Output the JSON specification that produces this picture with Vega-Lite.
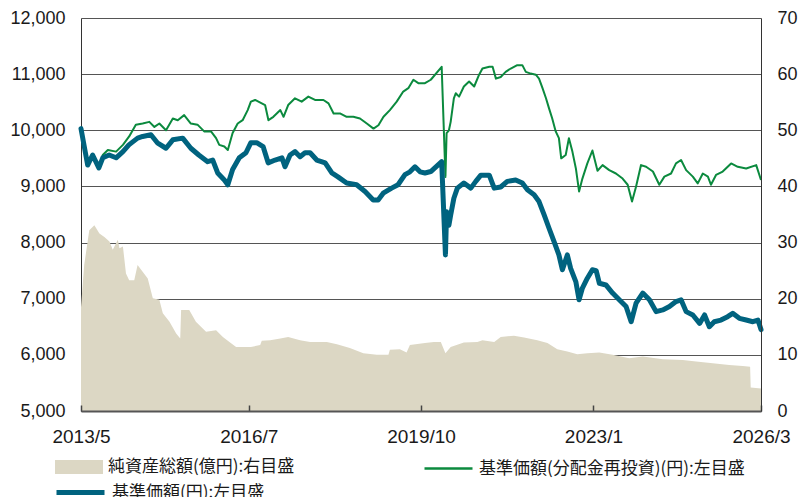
{
  "$schema": "https://vega.github.io/schema/vega-lite/v6.json",
  "width": 680,
  "height": 393,
  "autosize": "none",
  "padding": {"left": 81, "top": 18, "right": 39, "bottom": 86},
  "background": "white",
  "config": {
    "view": {"stroke": null},
    "font": "Liberation Sans",
    "axis": {"labelColor": "#1a1a1a", "labelFont": "Liberation Sans", "labelFontSize": 18, "title": null},
    "legend": {"labelFont": "Noto Sans CJK JP", "labelFontSize": 17, "labelColor": "#1a1a1a", "labelLimit": 0, "labelOffset": 5, "title": null, "orient": "none", "symbolSize": 2304, "symbolOpacity": 1}
  },
  "datasets": {
    "assets": [
      {"d": "2013-05-01", "v": 18.5}, {"d": "2013-05-23", "v": 26}, {"d": "2013-06-27", "v": 32.2}, {"d": "2013-08-01", "v": 33.1},
      {"d": "2013-09-05", "v": 31.6}, {"d": "2013-10-09", "v": 31.0}, {"d": "2013-11-13", "v": 30.2}, {"d": "2013-12-06", "v": 28.7},
      {"d": "2014-01-10", "v": 30.5}, {"d": "2014-01-21", "v": 29.0}, {"d": "2014-02-14", "v": 29.3}, {"d": "2014-03-07", "v": 24.5},
      {"d": "2014-03-29", "v": 23.3}, {"d": "2014-05-03", "v": 23.3}, {"d": "2014-05-26", "v": 26.0}, {"d": "2014-06-30", "v": 24.8},
      {"d": "2014-08-04", "v": 23.6}, {"d": "2014-09-08", "v": 20.1}, {"d": "2014-10-23", "v": 19.8}, {"d": "2014-11-16", "v": 17.4},
      {"d": "2015-01-01", "v": 15.9}, {"d": "2015-02-16", "v": 13.8}, {"d": "2015-03-16", "v": 12.9}, {"d": "2015-03-22", "v": 18.0},
      {"d": "2015-05-17", "v": 18.0}, {"d": "2015-07-02", "v": 15.9}, {"d": "2015-09-10", "v": 14.1}, {"d": "2015-11-18", "v": 14.4},
      {"d": "2016-01-04", "v": 13.2}, {"d": "2016-02-18", "v": 12.3}, {"d": "2016-04-04", "v": 11.4}, {"d": "2016-07-15", "v": 11.4},
      {"d": "2016-09-17", "v": 11.75}, {"d": "2016-09-28", "v": 12.5}, {"d": "2016-11-25", "v": 12.6}, {"d": "2017-02-03", "v": 12.9},
      {"d": "2017-03-29", "v": 13.2}, {"d": "2017-06-19", "v": 12.6}, {"d": "2017-08-27", "v": 12.3}, {"d": "2017-12-20", "v": 12.3},
      {"d": "2018-02-28", "v": 11.9}, {"d": "2018-05-28", "v": 11.2}, {"d": "2018-08-29", "v": 10.3}, {"d": "2018-11-30", "v": 10.0},
      {"d": "2019-02-18", "v": 10.0}, {"d": "2019-02-28", "v": 10.9}, {"d": "2019-05-08", "v": 11.0}, {"d": "2019-06-23", "v": 10.4},
      {"d": "2019-07-16", "v": 11.75}, {"d": "2019-10-28", "v": 12.1}, {"d": "2019-12-29", "v": 12.3}, {"d": "2020-02-14", "v": 12.3},
      {"d": "2020-03-17", "v": 10.3}, {"d": "2020-04-22", "v": 11.4}, {"d": "2020-07-22", "v": 12.2}, {"d": "2020-10-23", "v": 12.3},
      {"d": "2020-11-27", "v": 12.6}, {"d": "2021-02-16", "v": 12.3}, {"d": "2021-04-02", "v": 13.2}, {"d": "2021-07-02", "v": 13.4},
      {"d": "2021-09-10", "v": 13.1}, {"d": "2021-12-10", "v": 12.6}, {"d": "2022-02-18", "v": 12.1}, {"d": "2022-04-27", "v": 11.0},
      {"d": "2022-07-05", "v": 10.6}, {"d": "2022-09-12", "v": 10.1}, {"d": "2022-11-20", "v": 10.3}, {"d": "2023-02-10", "v": 10.4},
      {"d": "2023-05-13", "v": 10.0}, {"d": "2023-09-05", "v": 9.4}, {"d": "2023-12-07", "v": 9.7}, {"d": "2024-04-23", "v": 9.2},
      {"d": "2024-09-08", "v": 9.1}, {"d": "2024-12-09", "v": 8.8}, {"d": "2025-04-02", "v": 8.5}, {"d": "2025-07-25", "v": 8.2},
      {"d": "2025-10-26", "v": 8.0}, {"d": "2025-12-16", "v": 7.9}, {"d": "2025-12-20", "v": 4.2}, {"d": "2026-03-01", "v": 4.0}
    ],
    "navre": [
      {"d": "2013-05-01", "v": 10030}, {"d": "2013-06-16", "v": 9380}, {"d": "2013-07-20", "v": 9560}, {"d": "2013-09-01", "v": 9340},
      {"d": "2013-09-28", "v": 9560}, {"d": "2013-11-02", "v": 9650}, {"d": "2013-12-29", "v": 9620}, {"d": "2014-02-14", "v": 9740},
      {"d": "2014-03-29", "v": 9890}, {"d": "2014-05-14", "v": 10100}, {"d": "2014-06-30", "v": 10120}, {"d": "2014-08-15", "v": 10150},
      {"d": "2014-09-19", "v": 10060}, {"d": "2014-10-23", "v": 10120}, {"d": "2014-12-08", "v": 10000}, {"d": "2015-01-24", "v": 10210},
      {"d": "2015-02-27", "v": 10180}, {"d": "2015-04-12", "v": 10270}, {"d": "2015-05-28", "v": 10120}, {"d": "2015-07-13", "v": 10100},
      {"d": "2015-08-28", "v": 9980}, {"d": "2015-10-14", "v": 9980}, {"d": "2015-11-18", "v": 9860}, {"d": "2015-12-10", "v": 9740},
      {"d": "2016-01-14", "v": 9710}, {"d": "2016-02-07", "v": 9650}, {"d": "2016-03-11", "v": 9950}, {"d": "2016-04-15", "v": 10120},
      {"d": "2016-05-19", "v": 10180}, {"d": "2016-06-23", "v": 10360}, {"d": "2016-07-15", "v": 10510}, {"d": "2016-08-13", "v": 10540},
      {"d": "2016-09-28", "v": 10480}, {"d": "2016-10-21", "v": 10450}, {"d": "2016-11-13", "v": 10180}, {"d": "2016-12-17", "v": 10240},
      {"d": "2017-02-03", "v": 10360}, {"d": "2017-02-25", "v": 10240}, {"d": "2017-03-29", "v": 10450}, {"d": "2017-05-15", "v": 10570},
      {"d": "2017-06-30", "v": 10510}, {"d": "2017-08-15", "v": 10600}, {"d": "2017-09-30", "v": 10540}, {"d": "2017-11-27", "v": 10540},
      {"d": "2018-01-01", "v": 10480}, {"d": "2018-02-05", "v": 10300}, {"d": "2018-03-21", "v": 10300}, {"d": "2018-05-06", "v": 10240},
      {"d": "2018-06-21", "v": 10240}, {"d": "2018-08-06", "v": 10210}, {"d": "2018-09-22", "v": 10120}, {"d": "2018-11-07", "v": 10030},
      {"d": "2018-12-11", "v": 10090}, {"d": "2019-01-15", "v": 10240}, {"d": "2019-02-28", "v": 10360}, {"d": "2019-04-16", "v": 10510},
      {"d": "2019-05-31", "v": 10690}, {"d": "2019-07-05", "v": 10750}, {"d": "2019-08-09", "v": 10900}, {"d": "2019-09-12", "v": 10840},
      {"d": "2019-10-28", "v": 10840}, {"d": "2019-12-07", "v": 10900}, {"d": "2020-02-20", "v": 11130}, {"d": "2020-03-17", "v": 9170},
      {"d": "2020-03-25", "v": 9950}, {"d": "2020-04-10", "v": 10000}, {"d": "2020-04-22", "v": 10150}, {"d": "2020-05-14", "v": 10570},
      {"d": "2020-05-27", "v": 10660}, {"d": "2020-06-19", "v": 10600}, {"d": "2020-07-22", "v": 10780}, {"d": "2020-08-27", "v": 10870},
      {"d": "2020-10-01", "v": 10780}, {"d": "2020-11-04", "v": 10990}, {"d": "2020-11-27", "v": 11100}, {"d": "2021-01-13", "v": 11130},
      {"d": "2021-02-05", "v": 11130}, {"d": "2021-02-28", "v": 10920}, {"d": "2021-04-02", "v": 10950}, {"d": "2021-05-06", "v": 11040},
      {"d": "2021-06-10", "v": 11100}, {"d": "2021-07-25", "v": 11160}, {"d": "2021-08-29", "v": 11160}, {"d": "2021-09-22", "v": 11040},
      {"d": "2021-10-26", "v": 11010}, {"d": "2021-11-30", "v": 10990}, {"d": "2021-12-22", "v": 10920}, {"d": "2022-01-15", "v": 10750},
      {"d": "2022-02-08", "v": 10570}, {"d": "2022-03-01", "v": 10390}, {"d": "2022-03-23", "v": 10210}, {"d": "2022-04-16", "v": 9980},
      {"d": "2022-05-08", "v": 9860}, {"d": "2022-05-24", "v": 9500}, {"d": "2022-06-24", "v": 9560}, {"d": "2022-07-16", "v": 9860},
      {"d": "2022-08-09", "v": 9620}, {"d": "2022-09-02", "v": 9320}, {"d": "2022-09-24", "v": 8910}, {"d": "2022-10-17", "v": 9140},
      {"d": "2022-11-20", "v": 9410}, {"d": "2022-12-25", "v": 9640}, {"d": "2023-01-29", "v": 9280}, {"d": "2023-03-05", "v": 9380},
      {"d": "2023-04-20", "v": 9290}, {"d": "2023-06-05", "v": 9230}, {"d": "2023-07-21", "v": 9140}, {"d": "2023-08-25", "v": 9030},
      {"d": "2023-09-24", "v": 8730}, {"d": "2023-10-22", "v": 9000}, {"d": "2023-11-25", "v": 9380}, {"d": "2023-12-30", "v": 9350},
      {"d": "2024-02-15", "v": 9265}, {"d": "2024-03-30", "v": 9030}, {"d": "2024-05-04", "v": 9175}, {"d": "2024-06-19", "v": 9230},
      {"d": "2024-07-23", "v": 9410}, {"d": "2024-08-27", "v": 9470}, {"d": "2024-10-01", "v": 9290}, {"d": "2024-11-16", "v": 9175},
      {"d": "2024-12-20", "v": 9055}, {"d": "2025-01-24", "v": 9230}, {"d": "2025-02-28", "v": 9175}, {"d": "2025-03-21", "v": 9030},
      {"d": "2025-04-25", "v": 9205}, {"d": "2025-06-10", "v": 9265}, {"d": "2025-08-07", "v": 9410}, {"d": "2025-09-22", "v": 9350},
      {"d": "2025-11-19", "v": 9320}, {"d": "2026-01-27", "v": 9380}, {"d": "2026-03-01", "v": 9115}
    ],
    "nav": [
      {"d": "2013-05-01", "v": 10030}, {"d": "2013-06-16", "v": 9380}, {"d": "2013-07-20", "v": 9560}, {"d": "2013-09-01", "v": 9330},
      {"d": "2013-09-28", "v": 9510}, {"d": "2013-11-11", "v": 9560}, {"d": "2013-12-29", "v": 9510}, {"d": "2014-02-14", "v": 9620},
      {"d": "2014-03-27", "v": 9740}, {"d": "2014-05-26", "v": 9860}, {"d": "2014-06-30", "v": 9890}, {"d": "2014-08-26", "v": 9920},
      {"d": "2014-10-12", "v": 9770}, {"d": "2014-12-08", "v": 9680}, {"d": "2015-01-24", "v": 9830}, {"d": "2015-04-02", "v": 9860},
      {"d": "2015-05-28", "v": 9680}, {"d": "2015-07-22", "v": 9560}, {"d": "2015-09-21", "v": 9440}, {"d": "2015-10-26", "v": 9470},
      {"d": "2015-11-29", "v": 9240}, {"d": "2016-01-14", "v": 9115}, {"d": "2016-02-07", "v": 9030}, {"d": "2016-03-11", "v": 9300},
      {"d": "2016-04-26", "v": 9510}, {"d": "2016-06-11", "v": 9600}, {"d": "2016-07-15", "v": 9780}, {"d": "2016-08-24", "v": 9780},
      {"d": "2016-10-07", "v": 9710}, {"d": "2016-11-11", "v": 9420}, {"d": "2016-12-29", "v": 9470}, {"d": "2017-02-14", "v": 9510},
      {"d": "2017-03-07", "v": 9350}, {"d": "2017-04-11", "v": 9560}, {"d": "2017-05-15", "v": 9620}, {"d": "2017-06-19", "v": 9530},
      {"d": "2017-07-23", "v": 9600}, {"d": "2017-08-27", "v": 9600}, {"d": "2017-10-12", "v": 9470}, {"d": "2017-12-09", "v": 9420},
      {"d": "2018-01-24", "v": 9240}, {"d": "2018-03-07", "v": 9170}, {"d": "2018-05-06", "v": 9060}, {"d": "2018-07-14", "v": 9030},
      {"d": "2018-09-10", "v": 8910}, {"d": "2018-11-05", "v": 8760}, {"d": "2018-12-09", "v": 8760}, {"d": "2019-01-13", "v": 8880},
      {"d": "2019-03-12", "v": 8970}, {"d": "2019-04-25", "v": 9030}, {"d": "2019-06-12", "v": 9210}, {"d": "2019-07-16", "v": 9260},
      {"d": "2019-08-20", "v": 9350}, {"d": "2019-09-24", "v": 9260}, {"d": "2019-10-28", "v": 9240}, {"d": "2019-12-07", "v": 9265},
      {"d": "2020-02-20", "v": 9440}, {"d": "2020-03-17", "v": 7780}, {"d": "2020-03-25", "v": 8550}, {"d": "2020-04-10", "v": 8310},
      {"d": "2020-04-22", "v": 8490}, {"d": "2020-05-14", "v": 8790}, {"d": "2020-06-07", "v": 8970}, {"d": "2020-07-22", "v": 9060},
      {"d": "2020-09-08", "v": 8970}, {"d": "2020-10-12", "v": 9090}, {"d": "2020-11-16", "v": 9200}, {"d": "2021-01-13", "v": 9200},
      {"d": "2021-02-16", "v": 8970}, {"d": "2021-04-02", "v": 8990}, {"d": "2021-05-17", "v": 9090}, {"d": "2021-07-14", "v": 9115},
      {"d": "2021-08-29", "v": 9060}, {"d": "2021-10-03", "v": 8940}, {"d": "2021-11-18", "v": 8850}, {"d": "2021-12-22", "v": 8730},
      {"d": "2022-01-27", "v": 8490}, {"d": "2022-03-01", "v": 8255}, {"d": "2022-04-04", "v": 8020}, {"d": "2022-05-08", "v": 7780},
      {"d": "2022-06-01", "v": 7515}, {"d": "2022-07-05", "v": 7780}, {"d": "2022-07-28", "v": 7540}, {"d": "2022-09-02", "v": 7300},
      {"d": "2022-09-24", "v": 6980}, {"d": "2022-10-17", "v": 7190}, {"d": "2022-11-20", "v": 7365}, {"d": "2022-12-25", "v": 7515},
      {"d": "2023-01-20", "v": 7500}, {"d": "2023-02-11", "v": 7275}, {"d": "2023-03-28", "v": 7245}, {"d": "2023-05-13", "v": 7100},
      {"d": "2023-06-28", "v": 6980}, {"d": "2023-08-14", "v": 6860}, {"d": "2023-09-18", "v": 6590}, {"d": "2023-10-22", "v": 6920},
      {"d": "2023-12-07", "v": 7100}, {"d": "2024-01-22", "v": 6980}, {"d": "2024-03-08", "v": 6770}, {"d": "2024-04-23", "v": 6800},
      {"d": "2024-06-08", "v": 6860}, {"d": "2024-07-23", "v": 6950}, {"d": "2024-08-27", "v": 6980}, {"d": "2024-10-01", "v": 6770},
      {"d": "2024-11-16", "v": 6710}, {"d": "2025-01-02", "v": 6560}, {"d": "2025-02-05", "v": 6710}, {"d": "2025-03-10", "v": 6500},
      {"d": "2025-04-13", "v": 6590}, {"d": "2025-05-29", "v": 6620}, {"d": "2025-07-14", "v": 6680}, {"d": "2025-08-18", "v": 6740},
      {"d": "2025-10-03", "v": 6650}, {"d": "2025-11-19", "v": 6620}, {"d": "2026-01-04", "v": 6590}, {"d": "2026-02-08", "v": 6620},
      {"d": "2026-03-01", "v": 6450}
    ]
  },
  "layer": [
    {
      "data": {"name": "assets"},
      "mark": {"type": "area", "opacity": 1},
      "encoding": {
        "x": {
          "field": "d", "type": "temporal",
          "scale": {"type": "utc", "domain": [{"year": 2013, "month": 5, "date": 1, "utc": true}, {"year": 2026, "month": 3, "date": 1, "utc": true}]},
          "axis": {
            "values": [
              {"year": 2013, "month": 5, "date": 1, "utc": true},
              {"year": 2016, "month": 7, "date": 1, "utc": true},
              {"year": 2019, "month": 10, "date": 1, "utc": true},
              {"year": 2023, "month": 1, "date": 1, "utc": true},
              {"year": 2026, "month": 3, "date": 1, "utc": true}
            ],
            "labelExpr": "utcFormat(datum.value, '%Y/%-m')",
            "grid": false, "tickSize": -6, "tickColor": "#444", "tickWidth": 1.5, "domainColor": "#555", "domainWidth": 2, "zindex": 1,
            "labelPadding": 22, "labelFlush": false, "labelOverlap": false, "labelFontSize": 19
          }
        },
        "y": {
          "field": "v", "type": "quantitative",
          "scale": {"domain": [0, 70], "nice": false, "zero": true},
          "axis": {"orient": "right", "values": [0, 10, 20, 30, 40, 50, 60, 70], "grid": false, "ticks": false, "domainColor": "#333", "labelPadding": 16, "zindex": 1}
        },
        "fill": {
          "datum": "純資産総額(億円):右目盛",
          "scale": {"range": ["#DCD7C4"]},
          "legend": {
            "legendX": -26, "legendY": 425,
            "symbolType": "M-1,-0.29H1V0.29H-1Z",
            "symbolStrokeWidth": 0, "symbolFillColor": "#DCD7C4"
          }
        }
      }
    },
    {
      "layer": [
        {
          "data": {"name": "navre"},
          "mark": {"type": "line", "strokeWidth": 2, "strokeJoin": "round"},
          "encoding": {
            "x": {"field": "d", "type": "temporal"},
            "y": {
              "field": "v", "type": "quantitative",
              "scale": {"domain": [5000, 12000], "nice": false, "zero": false},
              "axis": {"orient": "left", "values": [5000, 6000, 7000, 8000, 9000, 10000, 11000, 12000], "labelExpr": "format(datum.value, ',.0f')", "grid": true, "gridColor": "#555", "gridWidth": 1, "ticks": false, "domainColor": "#333", "labelPadding": 16}
            },
            "stroke": {
              "datum": "基準価額(分配金再投資)(円):左目盛",
              "scale": {"range": ["#0B8A3E"]},
              "legend": {
                "legendX": 342, "legendY": 425,
                "symbolType": "stroke", "symbolStrokeWidth": 2.5
              }
            }
          }
        },
        {
          "data": {"name": "nav"},
          "mark": {"type": "line", "strokeWidth": 5, "strokeJoin": "round", "strokeCap": "round"},
          "encoding": {
            "x": {"field": "d", "type": "temporal"},
            "y": {"field": "v", "type": "quantitative"},
            "color": {
              "datum": "基準価額(円):左目盛",
              "scale": {"range": ["#00637F"]},
              "legend": {
                "legendX": -27, "legendY": 448,
                "symbolType": "stroke", "symbolStrokeWidth": 5
              }
            }
          }
        }
      ]
    }
  ],
  "resolve": {"scale": {"y": "independent"}}
}
